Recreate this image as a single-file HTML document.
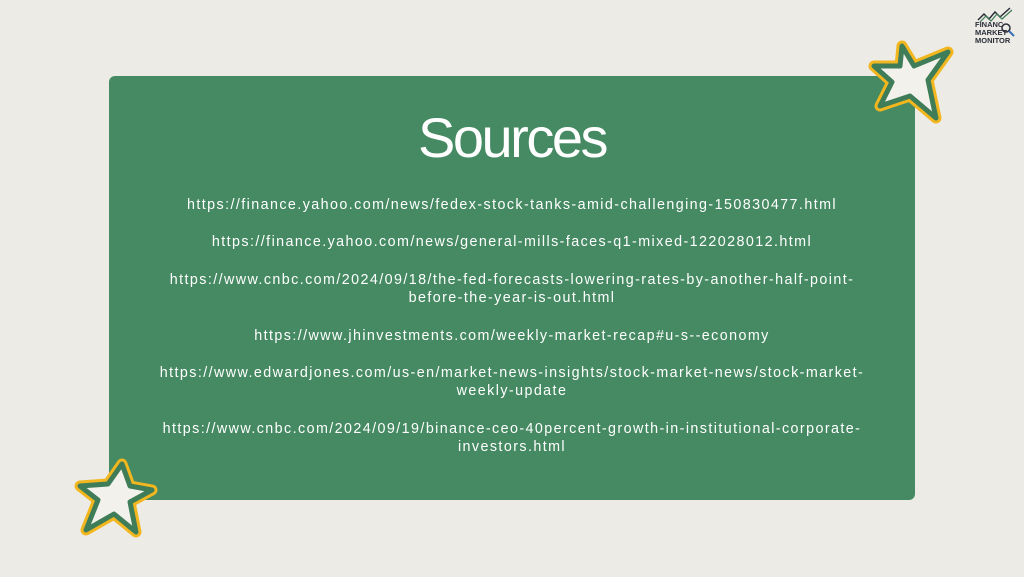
<!DOCTYPE html>
<html><head><meta charset="utf-8"><style>
html,body{margin:0;padding:0}
body{width:1024px;height:577px;background:#edebe6;position:relative;overflow:hidden;font-family:"Liberation Sans",sans-serif}
#panel{position:absolute;left:109px;top:76px;width:806px;height:424px;background:#458a62;border-radius:6px}
h1{position:absolute;left:0;width:100%;top:103px;margin:0;text-align:center;color:#fff;font-weight:normal;font-size:56px;letter-spacing:-2.5px;line-height:70px}
.src{position:absolute;left:110px;width:804px;text-align:center;color:#fff;font-size:14.3px;letter-spacing:1.42px;line-height:18px}
svg{position:absolute}
</style></head><body>
<div id="panel"></div>
<h1>Sources</h1>
<div class="src" style="top:196px">https://finance.yahoo.com/news/fedex-stock-tanks-amid-challenging-150830477.html</div>
<div class="src" style="top:233px">https://finance.yahoo.com/news/general-mills-faces-q1-mixed-122028012.html</div>
<div class="src" style="top:271px">https://www.cnbc.com/2024/09/18/the-fed-forecasts-lowering-rates-by-another-half-point-<br>before-the-year-is-out.html</div>
<div class="src" style="top:327px">https://www.jhinvestments.com/weekly-market-recap#u-s--economy</div>
<div class="src" style="top:364px">https://www.edwardjones.com/us-en/market-news-insights/stock-market-news/stock-market-<br>weekly-update</div>
<div class="src" style="top:420px">https://www.cnbc.com/2024/09/19/binance-ceo-40percent-growth-in-institutional-corporate-<br>investors.html</div>

<svg style="left:866px;top:38px" width="92" height="90" viewBox="0 0 92 90">
<polygon points="36,8 48,28 82,14 62,42 70,80 44,58 14,68 26,44 8,28 34,28" fill="none" stroke="#f2b61f" stroke-width="11" stroke-linejoin="round"/>
<polygon points="36,8 48,28 82,14 62,42 70,80 44,58 14,68 26,44 8,28 34,28" fill="#f3f1ec" stroke="#3f7c58" stroke-width="5" stroke-linejoin="round"/>
</svg>
<svg style="left:72px;top:456px" width="90" height="84" viewBox="0 0 90 84">
<polygon points="50,8 58,30 80,34 58,46 64,76 42,58 14,74 26,44 8,30 36,28" fill="none" stroke="#f2b61f" stroke-width="11" stroke-linejoin="round"/>
<polygon points="50,8 58,30 80,34 58,46 64,76 42,58 14,74 26,44 8,30 36,28" fill="#f3f1ec" stroke="#3f7c58" stroke-width="5" stroke-linejoin="round"/>
</svg>
<svg style="left:972px;top:6px" width="46" height="40" viewBox="0 0 46 40">
<polyline points="6,14 12,8 17,13 23,6 28,11 38,2" fill="none" stroke="#2c2f3a" stroke-width="1.5"/>
<polyline points="8,16 14,10 19,15 25,8 30,13 40,4" fill="none" stroke="#3f7c58" stroke-width="1.2"/>
<text x="3" y="21" font-size="7.5" font-weight="bold" fill="#2c2f3a" font-family="Liberation Sans">FINANC</text>
<text x="3" y="29" font-size="7.5" font-weight="bold" fill="#2c2f3a" font-family="Liberation Sans">MARKET</text>
<text x="3" y="37" font-size="7.5" font-weight="bold" fill="#2c2f3a" font-family="Liberation Sans">MONITOR</text>
<circle cx="34" cy="22" r="4" fill="none" stroke="#2c2f3a" stroke-width="1.5"/>
<line x1="37" y1="25" x2="42" y2="30" stroke="#3a6fb0" stroke-width="2"/>
</svg>
</body></html>
